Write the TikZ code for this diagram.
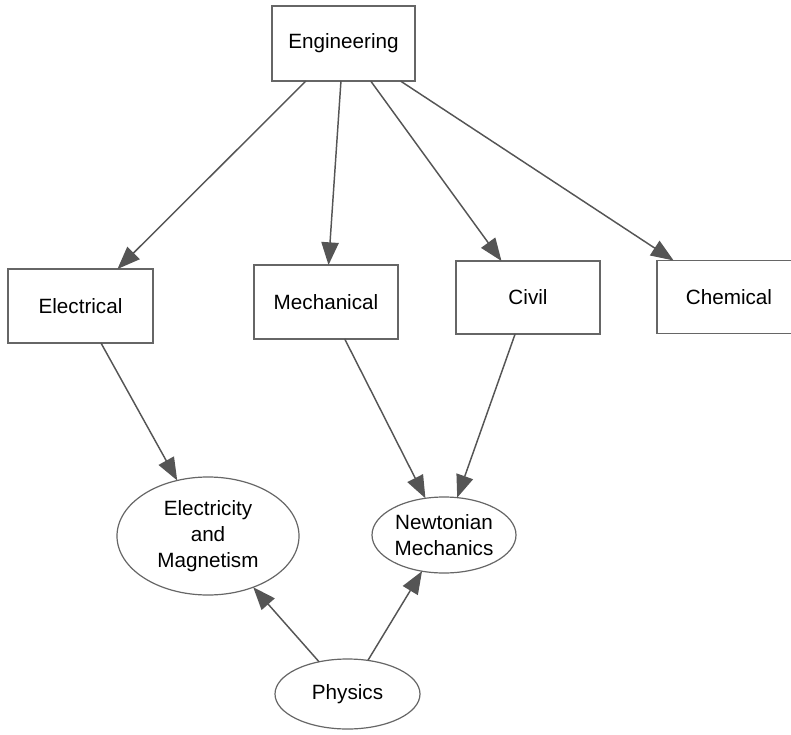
\documentclass[tikz,border=0pt]{standalone}
\usepackage{fontspec}
\setmainfont{Liberation Sans}
\usetikzlibrary{shapes.geometric,arrows.meta}
\definecolor{edge}{HTML}{555555}
\definecolor{frame}{HTML}{666666}
\begin{document}
\begin{tikzpicture}[x=0.75pt,y=-0.75pt,
  font=\fontsize{15.5}{19.5}\selectfont,
  box/.style={draw=frame,line width=1.1pt,rectangle,inner sep=0pt,outer sep=0pt,align=center},
  oval/.style={draw=frame,line width=0.9pt,ellipse,inner sep=0pt,outer sep=0pt,align=center},
  link/.style={draw=edge,line width=1.1pt,-{Triangle[length=17pt,width=13pt]}}]
\useasboundingbox (0,0) rectangle (791,734);
\node[box,minimum width=107.25pt,minimum height=56.25pt] (eng) at (343.5,43.5) {Engineering};
\node[box,minimum width=108.75pt,minimum height=55.5pt] (elec) at (80.5,306) {Electrical};
\node[box,minimum width=108pt,minimum height=55.5pt] (mech) at (326,302) {Mechanical};
\node[box,minimum width=108pt,minimum height=54.75pt] (civil) at (528,297.5) {Civil};
\node[box,minimum width=108pt,minimum height=54.75pt] (chem) at (729,297) {Chemical};
\node[oval,minimum width=136.5pt,minimum height=88.5pt] (em) at (208,536) {Electricity\\and\\Magnetism};
\node[oval,minimum width=108pt,minimum height=57pt] (newt) at (444,535) {Newtonian\\Mechanics};
\node[oval,minimum width=108.75pt,minimum height=52.5pt] (phys) at (347.5,694) {Physics};
\draw[link] (eng) -- (elec);
\draw[link] (eng) -- (mech);
\draw[link] (eng) -- (civil);
\draw[link] (eng) -- (chem);
\draw[link] (elec) -- (em);
\draw[link] (mech) -- (newt);
\draw[link] (civil) -- (newt);
\draw[link] (phys) -- (em);
\draw[link] (phys) -- (newt);
\end{tikzpicture}
\end{document}
